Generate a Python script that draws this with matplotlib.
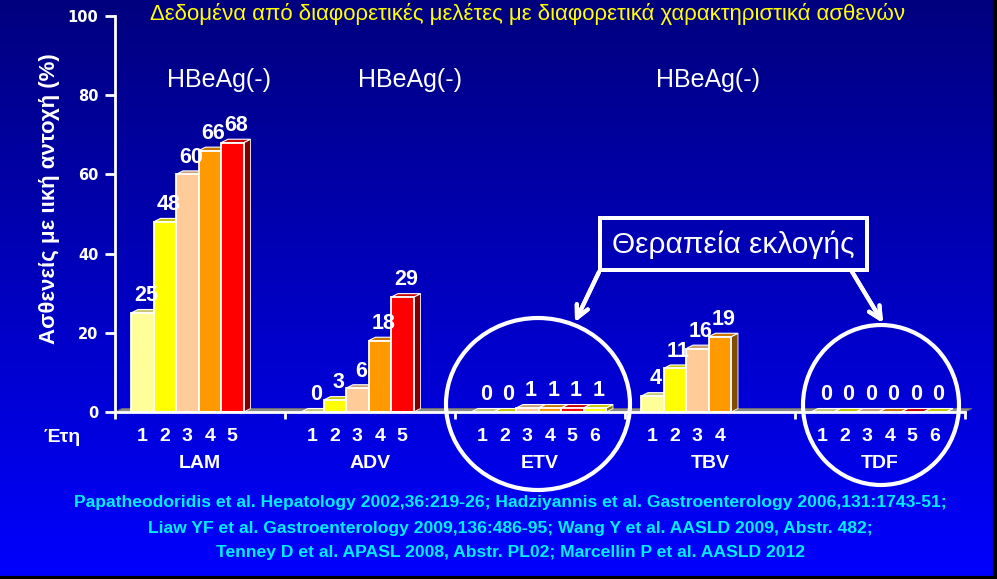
import matplotlib
matplotlib.use("Agg")
import matplotlib.pyplot as plt
import matplotlib.colors as mcolors
from matplotlib.patches import Polygon, Rectangle, Ellipse
import numpy as np

plt.rcParams['font.family'] = ['Liberation Sans', 'DejaVu Sans']

# data
drugs = ["LAM", "ADV", "ETV", "TBV", "TDF"]
lam = [25, 48, 60, 66, 68]
adv = [0, 3, 6, 18, 29]
etv = [0, 0, 1, 1, 1, 1]
tbv = [4, 11, 16, 19]
tdf = [0, 0, 0, 0, 0, 0]
series = [lam, adv, etv, tbv, tdf]
year_colors = ["#FFFF99", "#FFFF00", "#FFCC99", "#FF9900", "#FF0000", "#FFFF00"]
yticks = [0, 20, 40, 60, 80, 100]
headers = ["HBeAg(-)", "HBeAg(-)", "HBeAg(-)"]
title = "Δεδομένα από διαφορετικές μελέτες με διαφορετικά χαρακτηριστικά ασθενών"
ylabel = "Ασθενείς με ιική αντοχή (%)"
refs = [
    "Papatheodoridis et al. Hepatology 2002,36:219-26; Hadziyannis et al. Gastroenterology 2006,131:1743-51;",
    "Liaw YF et al. Gastroenterology 2009,136:486-95; Wang Y et al. AASLD 2009, Abstr. 482;",
    "Tenney D et al. APASL 2008, Abstr. PL02; Marcellin P et al. AASLD 2012",
]

W, H = 997, 579
fig = plt.figure(figsize=(W / 100, H / 100), dpi=100)


def fx(x):
    return x / W


def fy(y):
    return 1 - y / H


def pt(px):
    return px * 72 / 100


# background gradient
bg = fig.add_axes([0, 0, 1, 1])
grad = np.linspace(0, 1, 256).reshape(-1, 1)
cmap = mcolors.LinearSegmentedColormap.from_list("bg", ["#00007E", "#0000FF"])
bg.imshow(grad, aspect="auto", cmap=cmap, extent=[0, 1, 0, 1])
bg.plot([0, 1], [0.002, 0.002], color="black", lw=3)
bg.plot([0.998, 0.998], [0, 1], color="black", lw=3)
bg.set_xlim(0, 1)
bg.set_ylim(0, 1)
bg.axis("off")

ax = fig.add_axes([fx(115), 1 - 412 / H, 850 / W, 396 / H])
ax.set_xlim(0, 5)
ax.set_ylim(0, 100)
ax.patch.set_visible(False)

# 3d depth in data units
ddx = 7 / 170
ddy = 3.5 / 3.96
bw = 22.5 / 170
start = 16 / 170


def shade(c, f):
    r, g, b = mcolors.to_rgb(c)
    return (r * f, g * f, b * f)


# floor
ax.add_patch(Polygon([(0, 0), (5, 0), (5 + ddx, ddy), (ddx, ddy)], closed=True,
                     facecolor="#8C8C8C", edgecolor="#6E6E6E", lw=0.6, clip_on=False, zorder=1))

for i, vals in enumerate(series):
    for j, v in enumerate(vals):
        x = i + start + j * bw
        c = year_colors[j]
        z = 2 + j * 0.1
        ax.add_patch(Polygon([(x + bw, 0), (x + bw + ddx, ddy), (x + bw + ddx, v + ddy), (x + bw, v)],
                             closed=True, facecolor=shade(c, 0.5), edgecolor="white", lw=0.6,
                             clip_on=False, zorder=z))
        ax.add_patch(Polygon([(x, v), (x + bw, v), (x + bw + ddx, v + ddy), (x + ddx, v + ddy)],
                             closed=True, facecolor=shade(c, 0.78), edgecolor="white", lw=0.8,
                             clip_on=False, zorder=z))
        if v > 0:
            ax.add_patch(Rectangle((x, 0), bw, v, facecolor=c, edgecolor="white", lw=1.3,
                                   clip_on=False, zorder=z + 0.05))
        ax.text(x + bw / 2 + ddx / 2, v + ddy + 0.8, str(v), ha="center", va="bottom",
                color="white", fontsize=15.5, fontweight="bold", zorder=5)
        ax.text(x + bw / 2, -6.3, str(j + 1), ha="center", va="center",
                color="white", fontsize=14, fontweight="bold")
    ax.text(i + 0.5, -12.9, drugs[i], ha="center", va="center",
            color="white", fontsize=14, fontweight="bold")

for s in ["top", "right"]:
    ax.spines[s].set_visible(False)
for s in ["left", "bottom"]:
    ax.spines[s].set_color("white")
    ax.spines[s].set_linewidth(2)
    ax.spines[s].set_zorder(6)
ax.set_yticks(yticks)
ax.set_yticklabels([str(t) for t in yticks], family="DejaVu Sans", fontweight="bold", fontsize=10.5)
ax.set_xticks(range(6))
ax.set_xticklabels([])
ax.tick_params(axis="y", colors="white", length=7, width=2, pad=5)
ax.tick_params(axis="x", colors="white", length=5, width=2)

fig.text(fx(49), fy(199), ylabel, rotation=90, ha="center", va="center",
         color="white", fontsize=16, fontweight="bold")
fig.text(fx(62), fy(437), "Έτη", ha="center", va="center",
         color="white", fontsize=14, fontweight="bold")

fig.text(fx(528), fy(20), title, ha="center", va="baseline", color="#FFFF00", fontsize=16)
for hx, h in zip([219, 410, 708], headers):
    fig.text(fx(hx), fy(87), h, ha="center", va="baseline", color="white", fontsize=18)

for k, line in enumerate(refs):
    fig.text(fx(510), fy(503 + 25 * k), line, ha="center", va="center",
             color="#00EEFF", fontsize=12.6, fontweight="bold")

# circles, box and arrows in pixel space
tr = fig.dpi_scale_trans


def P(x, y):
    return (x / 100, (H - y) / 100)


fig.patches.append(Ellipse(P(538, 404), 184 / 100, 172 / 100, transform=tr,
                           fill=False, edgecolor="white", lw=3, zorder=10))
fig.patches.append(Ellipse(P(881, 405), 156 / 100, 160 / 100, transform=tr,
                           fill=False, edgecolor="white", lw=3, zorder=10))
bx0, by0 = P(600, 270)
fig.patches.append(Rectangle((bx0, by0), 267 / 100, 52 / 100, transform=tr,
                             fill=False, edgecolor="white", lw=pt(4), zorder=10))
fig.text(fx(733), fy(253), "Θεραπεία εκλογής", ha="center", va="baseline",
         color="white", fontsize=21.5, zorder=11)

for (x0, y0), (x1, y1) in [((599, 272), (575, 322)), ((851, 270), (883, 323))]:
    fig.add_artist(plt.annotate("", xy=P(x1, y1), xytext=P(x0, y0), xycoords=tr, textcoords=tr,
                                arrowprops=dict(arrowstyle="->", color="white", lw=3,
                                                mutation_scale=22, shrinkA=0, shrinkB=0)))

fig.savefig("out.png", dpi=100)
